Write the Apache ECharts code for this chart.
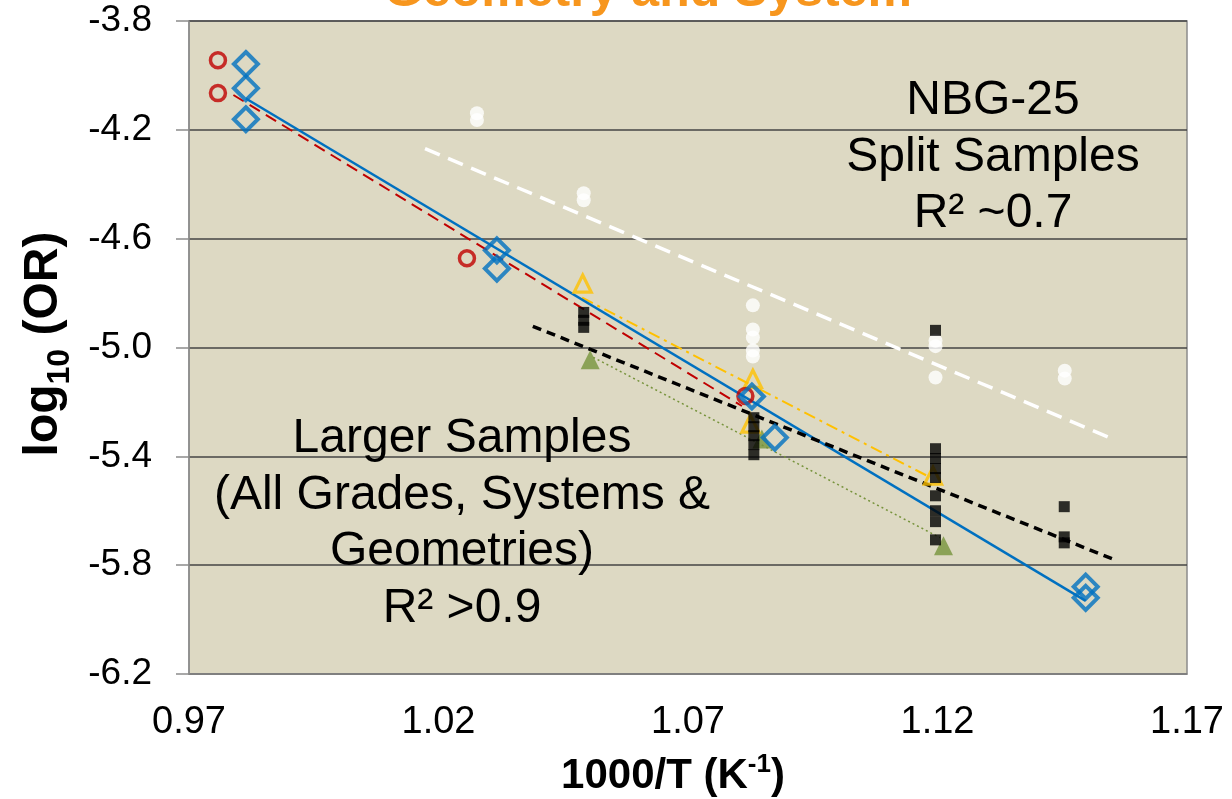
<!DOCTYPE html>
<html>
<head>
<meta charset="utf-8">
<script src="https://cdn.jsdelivr.net/npm/echarts@6/dist/echarts.min.js"></script>
<style>
html,body{margin:0;padding:0;background:#fff;}
#chart{width:1232px;height:799px;}
</style>
</head>
<body>
<div id="chart"></div>
<script>
// ---- data (1000/T, log10 OR) ----
const nbg25Split = [
  [1.0277,-4.139],[1.0277,-4.164],
  [1.0491,-4.433],[1.0491,-4.459],
  [1.0830,-4.845],[1.0830,-4.934],[1.0830,-4.963],[1.0830,-5.011],[1.0830,-5.033],
  [1.1196,-4.975],[1.1196,-4.995],[1.1196,-5.110],
  [1.1455,-5.085],[1.1455,-5.114]
];
const largeBlack = [
  [1.0491,-4.871],[1.0491,-4.900],[1.0491,-4.926],
  [1.0832,-5.258],[1.0832,-5.291],[1.0832,-5.324],[1.0832,-5.357],[1.0832,-5.394],
  [1.1196,-4.937],[1.1196,-5.372],[1.1196,-5.408],[1.1196,-5.445],[1.1196,-5.478],
  [1.1196,-5.545],[1.1196,-5.600],[1.1196,-5.640],[1.1196,-5.707],
  [1.1454,-5.585],[1.1454,-5.696],[1.1454,-5.718]
];
const redCircles = [[0.9758,-3.944],[0.9758,-4.065],[1.0257,-4.672],[1.0815,-5.178]];
const blueDiamonds = [
  [0.9814,-3.958],[0.9814,-4.047],[0.9814,-4.161],
  [1.0317,-4.643],[1.0317,-4.710],
  [1.0828,-5.180],[1.0874,-5.331],
  [1.1497,-5.879],[1.1497,-5.920]
];
const yellowTriangles = [[1.0489,-4.765],[1.0830,-5.115],[1.0825,-5.280],[1.1191,-5.471]];
const greenTriangles = [[1.0504,-5.045],[1.0848,-5.336],[1.1212,-5.729]];

// trend lines (end points)
const redTrend = [[0.9789,-4.072],[1.0808,-5.215]];
const blueTrend = [[0.9814,-4.085],[1.1497,-5.931]];
const whiteTrend = [[1.0173,-4.269],[1.1556,-5.340]];
const blackTrend = [[1.0389,-4.922],[1.1556,-5.781]];
const yellowTrend = [[1.0488,-4.817],[1.1185,-5.477]];
const greenTrend = [[1.0510,-5.036],[1.1205,-5.699]];

// axes
const xMin = 0.97, xMax = 1.17, xStep = 0.05;
const yMin = -6.2, yMax = -3.8, yStep = 0.4;

const titleText = 'Geometry and System';
const nbgLines = ['NBG-25', 'Split Samples', 'R\u00B2 ~0.7'];
const largeLines = ['Larger Samples', '(All Grades, Systems &', 'Geometries)', 'R\u00B2 >0.9'];

const FONT = "'Liberation Sans', Arial, sans-serif";

function trend(data, color, width, type, z) {
  return {type:'line', data:data, symbol:'none', silent:true, z:z,
    lineStyle:{color:color, width:width, type:type}};
}
function marks(data, symbol, size, style, z) {
  return {type:'scatter', data:data, symbol:symbol, symbolSize:size, z:z, itemStyle:style};
}

const chart = echarts.init(document.getElementById('chart'), null, {renderer:'canvas'});

const graphics = [
  {type:'text', x:648, y:-8, style:{text:titleText, font:'bold 50px ' + FONT, fill:'#F7961E', align:'center', verticalAlign:'middle'}},
  {type:'text', x:42, y:344, rotation:Math.PI/2,
    style:{text:'{b|log}{s|10}{b| (OR)}', align:'center', verticalAlign:'middle',
      rich:{b:{fontFamily:FONT, fontWeight:'bold', fontSize:48, fill:'#000', lineHeight:52, verticalAlign:'bottom'},
            s:{fontFamily:FONT, fontWeight:'bold', fontSize:32, fill:'#000', lineHeight:52, verticalAlign:'bottom', padding:[0,0,-8,0]}}}},
  {type:'text', x:673, y:776,
    style:{text:'{b|1000/T (K}{p|-1}{b|)}', align:'center', verticalAlign:'middle',
      rich:{b:{fontFamily:FONT, fontWeight:'bold', fontSize:42, fill:'#000', lineHeight:48},
            p:{fontFamily:FONT, fontWeight:'bold', fontSize:26, fill:'#000', lineHeight:48, verticalAlign:'top'}}}}
];
nbgLines.forEach(function(t, i){
  graphics.push({type:'text', x:993, y:101 + i*56.5, z:10,
    style:{text:t, font:'48px ' + FONT, fill:'#000', align:'center', verticalAlign:'middle'}});
});
largeLines.forEach(function(t, i){
  graphics.push({type:'text', x:462, y:439 + i*56.5, z:10,
    style:{text:t, font:'48px ' + FONT, fill:'#000', align:'center', verticalAlign:'middle'}});
});

chart.setOption({
  animation:false,
  backgroundColor:'#ffffff',
  grid:{left:189, top:21, width:998, height:653, show:true, backgroundColor:'#DDD9C3',
    borderColor:'#8c8c8c', borderWidth:1.5},
  xAxis:{type:'value', min:xMin, max:xMax, interval:xStep,
    axisLine:{show:true, lineStyle:{color:'#8c8c8c', width:1.5}},
    axisTick:{show:false}, splitLine:{show:false},
    axisLabel:{fontFamily:FONT, fontSize:38, color:'#000', margin:30,
      formatter:function(v){return v.toFixed(2);}}},
  yAxis:{type:'value', min:yMin, max:yMax, interval:yStep,
    axisLine:{show:true, lineStyle:{color:'#8c8c8c', width:1.5}},
    axisTick:{show:true, length:13, lineStyle:{color:'#8c8c8c', width:1.5}},
    splitLine:{show:true, lineStyle:{color:'#454545', width:1.5}},
    axisLabel:{fontFamily:FONT, fontSize:37, color:'#000', margin:37,
      formatter:function(v){return v.toFixed(1);}}},
  graphic:graphics,
  series:[
    trend(whiteTrend, '#ffffff', 3.5, [16,9], 2),
    trend(redTrend, '#C00000', 2, [12,7], 2),
    trend(yellowTrend, '#FFC000', 2, [12,5,3,5], 2),
    trend(greenTrend, '#77933C', 1.5, [2,3], 2),
    trend(blueTrend, '#0070C0', 2.5, 'solid', 2),
    trend(blackTrend, '#000000', 3.5, [9,6], 3),
    marks(nbg25Split, 'circle', 14, {color:'#ffffff'}, 4),
    marks(greenTriangles, 'triangle', 19, {color:'#77933C'}, 4),
    marks(yellowTriangles, 'triangle', 17, {color:'rgba(0,0,0,0)', borderColor:'#FFC000', borderWidth:3.2}, 4),
    marks(redCircles, 'circle', 15, {color:'rgba(0,0,0,0)', borderColor:'#C00000', borderWidth:3.5}, 5),
    marks(blueDiamonds, 'diamond', 24, {color:'rgba(0,0,0,0)', borderColor:'#0070C0', borderWidth:4}, 5),
    marks(largeBlack, 'rect', 11, {color:'#000000'}, 6)
  ]
});
</script>
</body>
</html>
